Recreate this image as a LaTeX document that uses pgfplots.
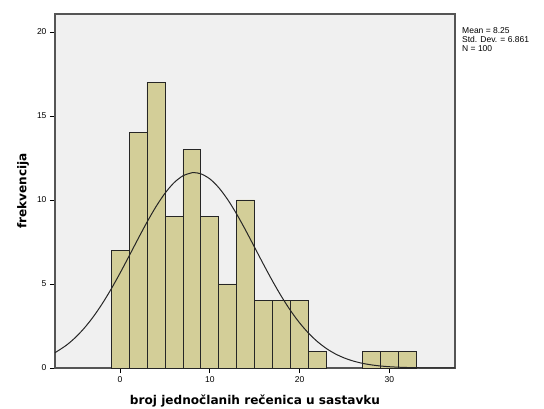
\documentclass[border=0pt]{standalone}
\usepackage{pgfplots}
\pgfplotsset{compat=1.18}
\usepackage{fontspec}
\setmainfont{Liberation Sans}
\newfontfamily\lblfont{DejaVu Sans}
\definecolor{barfill}{HTML}{D3CE98}
\definecolor{bgfill}{HTML}{F0F0F0}
\definecolor{frame}{HTML}{555555}
\begin{document}
\begin{tikzpicture}[x=1pt,y=1pt]
\useasboundingbox (-55,-40) rectangle (489,368);
\begin{axis}[
  at={(0,0)}, anchor=south west,
  scale only axis, width=400pt, height=354pt,
  xmin=-7.24, xmax=37.3, ymin=0, ymax=21.07,
  axis background/.style={fill=bgfill},
  axis line style={frame, line width=1.2pt},
  xtick={0,10,20,30}, ytick={0,5,10,15,20},
  tick align=outside, tick style={black, line width=0.8pt},
  major tick length=5pt,
  xtick pos=bottom, ytick pos=left,
  /pgf/number format/assume math mode=true,
  tick label style={font=\fontsize{8.5}{10}\selectfont},
  xlabel={\textbf{broj jednočlanih rečenica u sastavku}},
  ylabel={\textbf{frekvencija}},
  label style={font=\lblfont\fontsize{12.1}{14}\selectfont},
  xlabel style={at={(axis description cs:0.5,0)}, anchor=center, yshift=-33pt},
  ylabel style={at={(axis description cs:0,0.5)}, anchor=center, yshift=32pt},
  clip=true,
]
\addplot[ybar, bar width=2, fill=barfill, draw=black!85, line width=0.7pt] coordinates {
  (0,7) (2,14) (4,17) (6,9) (8,13) (10,9) (12,5) (14,10) (16,4) (18,4) (20,4) (22,1) (28,1) (30,1) (32,1)
};
\addplot[black!85, line width=1pt, smooth] coordinates {
  (-7.25,0.906) (-6,1.345) (-5,1.801) (-4,2.362) (-3,3.032) (-2,3.810) (-1,4.687)
  (0,5.644) (1,6.654) (2,7.680) (3,8.678) (4,9.599) (5,10.395) (6,11.021) (7,11.437)
  (8,11.621) (8.25,11.629) (9,11.560) (10,11.257) (11,10.731) (12,10.015) (13,9.151)
  (14,8.186) (15,7.167) (16,6.145) (17,5.157) (18,4.236) (19,3.407) (20,2.683)
  (21,2.068) (22,1.561) (23,1.153) (24,0.834) (25,0.591) (26,0.410) (27,0.278)
  (28,0.185) (29,0.120) (30,0.0765) (31,0.0477) (32,0.0291) (33,0.0174) (34,0.0102)
  (35,0.0058) (36,0.0032) (37.3,0.0015)
};
\end{axis}
\node[anchor=north west, align=left, inner sep=0pt, font=\fontsize{8.5}{9.2}\selectfont] at (407,341)
  {Mean = 8.25\\Std. Dev. = 6.861\\N = 100};
\end{tikzpicture}
\end{document}
